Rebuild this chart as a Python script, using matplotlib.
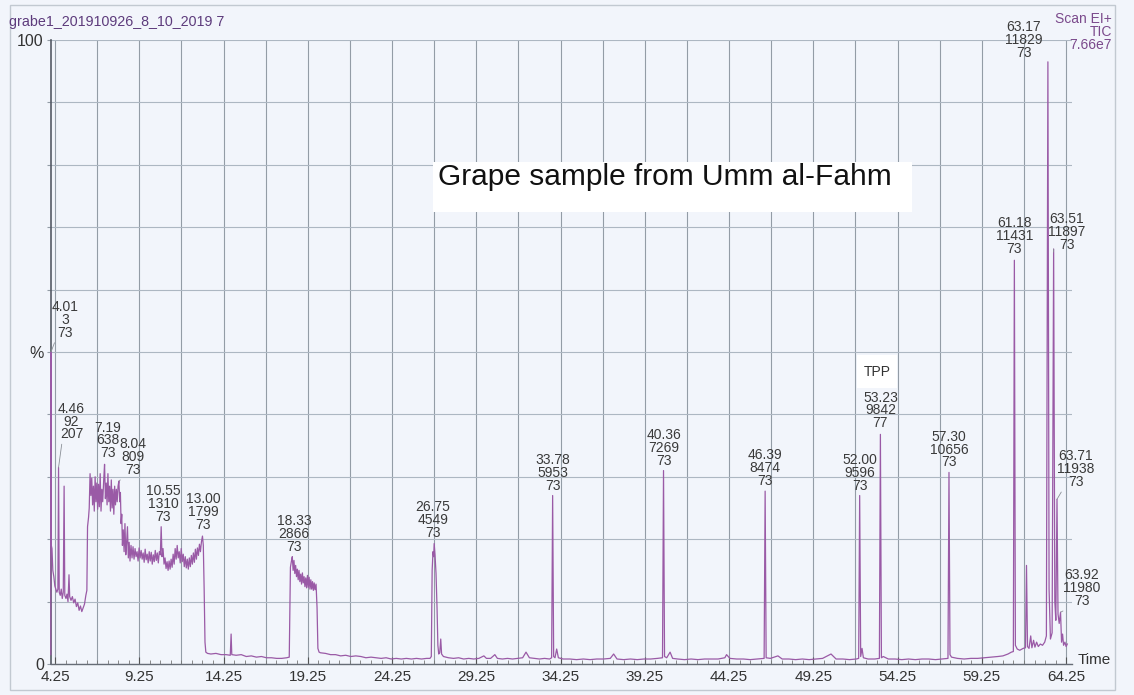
import matplotlib
matplotlib.use("Agg")
import matplotlib.pyplot as plt
import numpy as np
from matplotlib.ticker import FixedLocator, FixedFormatter
from matplotlib.patches import Rectangle

plt.rcParams['font.family'] = ['Liberation Sans', 'DejaVu Sans']

# ---------------- data ----------------
seg_start = [(4.00, 1.5), (4.01, 50.0), (4.03, 19.0), (4.07, 18.5), (4.12, 15.0), (4.18, 14.0),
             (4.24, 12.5), (4.30, 12.0), (4.36, 11.5), (4.42, 12.0), (4.46, 31.5), (4.50, 11.5),
             (4.56, 11.0), (4.62, 12.0), (4.68, 10.5), (4.74, 11.5), (4.79, 28.5), (4.83, 11.0),
             (4.90, 10.5), (4.96, 11.2), (5.02, 10.0), (5.08, 14.3), (5.12, 10.8), (5.20, 10.2),
             (5.28, 10.8), (5.36, 9.8), (5.44, 10.4), (5.52, 9.2), (5.60, 9.8), (5.68, 8.6),
             (5.76, 9.3), (5.84, 8.4), (5.92, 9.0), (6.00, 9.6), (6.08, 11.0), (6.14, 11.8),
             (6.18, 22.0), (6.24, 23.5), (6.28, 25.0), (6.33, 30.5), (6.38, 27.0)]
seg_band1 = [(6.43, 29.8), (6.48, 25.5), (6.53, 28.5), (6.58, 24.5), (6.63, 30.0), (6.68, 26.0),
             (6.73, 29.0), (6.78, 24.8), (6.83, 28.8), (6.88, 25.2), (6.93, 30.5), (6.98, 24.5),
             (7.03, 28.0), (7.08, 26.0), (7.14, 29.5), (7.19, 32.0), (7.24, 26.5), (7.29, 29.0),
             (7.34, 25.5), (7.39, 30.5), (7.44, 26.0), (7.49, 28.5), (7.54, 24.5), (7.59, 29.5),
             (7.64, 25.0), (7.69, 28.0), (7.74, 24.0), (7.79, 28.5), (7.84, 25.5), (7.89, 28.0),
             (7.94, 26.0), (7.99, 28.5), (8.04, 29.3), (8.09, 26.0), (8.13, 27.5)]
seg_band2 = [(8.17, 22.5), (8.21, 24.0), (8.25, 19.0), (8.30, 21.5), (8.35, 18.0), (8.40, 22.5),
             (8.45, 17.5), (8.50, 19.5), (8.55, 22.0), (8.60, 17.0), (8.65, 19.5), (8.70, 16.5),
             (8.76, 19.0), (8.82, 17.0), (8.88, 18.8), (8.94, 16.8), (9.00, 18.5), (9.06, 17.2),
             (9.12, 18.0), (9.18, 16.5), (9.24, 18.6), (9.30, 17.0), (9.36, 18.2), (9.42, 16.8),
             (9.48, 17.8), (9.54, 16.3), (9.60, 18.4), (9.66, 16.7), (9.72, 17.6), (9.78, 16.2),
             (9.84, 18.0), (9.90, 16.5), (9.96, 17.9), (10.02, 16.0), (10.08, 17.5), (10.14, 16.4),
             (10.20, 18.2), (10.26, 16.6), (10.32, 17.8), (10.38, 16.2), (10.44, 18.0), (10.50, 17.5),
             (10.55, 22.0), (10.60, 17.2), (10.66, 18.5), (10.72, 16.0), (10.78, 17.0), (10.84, 15.3),
             (10.90, 16.4), (10.96, 15.0), (11.02, 16.5), (11.08, 15.2), (11.14, 16.8), (11.20, 15.5),
             (11.26, 17.6), (11.32, 16.0), (11.38, 18.5), (11.44, 16.8), (11.50, 19.0), (11.56, 17.0),
             (11.62, 18.0), (11.68, 16.2), (11.74, 18.5), (11.80, 16.4), (11.86, 17.6), (11.92, 15.6),
             (11.98, 17.2), (12.04, 15.4), (12.10, 16.8), (12.16, 15.2), (12.22, 17.0), (12.28, 15.6),
             (12.34, 17.4), (12.40, 16.0), (12.46, 17.8), (12.52, 16.3), (12.58, 18.4), (12.64, 16.8),
             (12.70, 18.6), (12.76, 17.4), (12.82, 19.2), (12.88, 18.0), (12.94, 19.6), (13.00, 20.5),
             (13.05, 19.0), (13.10, 12.0), (13.15, 3.5), (13.20, 1.9)]
seg_base1 = [(13.30, 1.7), (13.50, 1.6), (13.80, 1.7), (14.10, 1.5), (14.40, 1.5), (14.65, 1.4),
             (14.70, 4.8), (14.74, 1.5), (15.00, 1.4), (15.30, 1.5), (15.60, 1.2), (15.90, 1.3),
             (16.20, 1.1), (16.50, 1.2), (16.80, 1.0), (17.10, 1.0), (17.40, 0.9), (17.70, 0.9),
             (18.00, 1.0), (18.15, 1.1)]
seg_band3 = [(18.22, 15.5), (18.28, 16.5), (18.33, 17.2), (18.38, 15.0), (18.43, 16.6), (18.48, 14.5),
             (18.53, 15.8), (18.58, 14.0), (18.63, 15.2), (18.68, 13.5), (18.73, 15.0), (18.78, 13.2),
             (18.83, 14.4), (18.88, 12.8), (18.93, 14.6), (18.98, 13.0), (19.03, 14.0), (19.08, 12.4),
             (19.13, 13.8), (19.18, 12.2), (19.23, 14.2), (19.28, 12.3), (19.33, 13.9), (19.38, 12.0),
             (19.43, 13.5), (19.48, 12.0), (19.53, 13.2), (19.58, 11.8), (19.63, 13.0), (19.68, 11.9),
             (19.74, 12.8), (19.80, 9.0), (19.85, 2.5), (19.92, 1.9)]
seg_base2 = [(20.00, 1.8), (20.30, 1.7), (20.60, 1.5), (20.90, 1.5), (21.20, 1.3), (21.50, 1.4),
             (21.80, 1.2), (22.10, 1.3), (22.40, 1.2), (22.70, 1.0), (23.00, 1.1), (23.30, 1.0),
             (23.60, 0.9), (23.90, 1.0), (24.20, 0.8), (24.50, 0.9), (24.80, 0.8), (25.10, 0.9),
             (25.40, 0.8), (25.70, 0.9), (26.00, 0.8), (26.30, 0.9), (26.50, 0.9)]
seg_peak26 = [(26.58, 1.2), (26.63, 15.0), (26.68, 18.0), (26.72, 17.2), (26.75, 19.3), (26.80, 17.5),
              (26.86, 14.5), (26.92, 9.0), (26.97, 3.0), (27.02, 1.6), (27.08, 1.8), (27.14, 4.0),
              (27.19, 1.6), (27.30, 1.2)]
seg_base3 = [(27.60, 1.0), (27.90, 0.9), (28.20, 1.0), (28.50, 0.8), (28.80, 0.9), (29.10, 0.8),
             (29.40, 0.9), (29.70, 1.3), (29.85, 0.9), (30.10, 0.9), (30.35, 1.5), (30.50, 0.9),
             (30.80, 0.8), (31.10, 0.9), (31.40, 0.8), (31.70, 0.9), (32.00, 1.0), (32.20, 1.9),
             (32.40, 1.0), (32.70, 0.9), (33.00, 0.8), (33.30, 0.9), (33.60, 0.8), (33.72, 1.0),
             (33.78, 27.0), (33.84, 1.2), (33.92, 1.0), (34.02, 2.4), (34.12, 1.0), (34.40, 0.8),
             (34.80, 0.8), (35.20, 0.7), (35.60, 0.8), (36.00, 0.7), (36.40, 0.8), (36.80, 0.8),
             (37.20, 0.9), (37.40, 1.6), (37.60, 0.8), (38.00, 0.7), (38.40, 0.8), (38.80, 0.7),
             (39.20, 0.8), (39.60, 0.8), (40.00, 0.9), (40.30, 1.0), (40.36, 31.0), (40.42, 1.2),
             (40.55, 1.0), (40.75, 1.9), (40.90, 0.9), (41.20, 0.8), (41.60, 0.7), (42.00, 0.8),
             (42.40, 0.7), (42.80, 0.8), (43.20, 0.8), (43.60, 0.8), (44.00, 1.0), (44.10, 1.5),
             (44.30, 0.9), (44.70, 0.8), (45.10, 0.8), (45.50, 0.7), (45.90, 0.8), (46.33, 0.9),
             (46.39, 27.7), (46.45, 1.0), (46.70, 0.9), (47.15, 1.3), (47.40, 0.8), (47.80, 0.8),
             (48.20, 0.7), (48.60, 0.8), (49.00, 0.7), (49.40, 0.8), (49.80, 0.9), (50.30, 1.6),
             (50.60, 0.8), (51.00, 0.8), (51.40, 0.7), (51.80, 0.8), (51.94, 0.9), (52.00, 27.0),
             (52.06, 1.2), (52.14, 2.5), (52.22, 1.0), (52.50, 0.8), (52.90, 0.8), (53.17, 0.9),
             (53.23, 36.8), (53.29, 1.0), (53.40, 1.2), (53.70, 0.8), (54.10, 0.8), (54.50, 0.7),
             (54.90, 0.8), (55.30, 0.7), (55.70, 0.8), (56.10, 0.8), (56.50, 0.7), (56.90, 0.8),
             (57.24, 0.9), (57.30, 30.7), (57.36, 1.5), (57.45, 1.1), (57.80, 0.9), (58.20, 0.8),
             (58.60, 0.9), (59.00, 0.9), (59.40, 1.0), (59.80, 1.1), (60.20, 1.2), (60.50, 1.3),
             (60.80, 1.6), (61.00, 1.9), (61.12, 2.0)]
seg_end = [(61.18, 64.7), (61.24, 3.0), (61.35, 2.4), (61.50, 2.2), (61.70, 2.5), (61.84, 2.6),
           (61.90, 15.8), (61.96, 2.8), (62.05, 2.5), (62.15, 4.5), (62.22, 2.6), (62.32, 3.8),
           (62.40, 2.7), (62.50, 3.5), (62.60, 2.8), (62.72, 3.2), (62.85, 3.0), (62.98, 3.5),
           (63.08, 4.5), (63.17, 96.5), (63.24, 12.0), (63.32, 4.0), (63.42, 5.0), (63.51, 66.5),
           (63.58, 10.0), (63.64, 7.0), (63.71, 26.4), (63.77, 8.0), (63.84, 6.5), (63.92, 8.3),
           (63.98, 3.5), (64.04, 4.8), (64.10, 3.0), (64.18, 3.5), (64.25, 2.8), (64.32, 3.2)]

trace = seg_start + seg_band1 + seg_band2 + seg_base1 + seg_band3 + seg_base2 + seg_peak26 + seg_base3 + seg_end
trace_time = np.array([p[0] for p in trace])
trace_pct = np.array([p[1] for p in trace])

peak_rt = [4.01, 4.46, 7.19, 8.04, 10.55, 13.00, 18.33, 26.75, 33.78, 40.36, 46.39,
           52.00, 53.23, 57.30, 61.18, 63.17, 63.51, 63.71, 63.92]
peak_scan = [3, 92, 638, 809, 1310, 1799, 2866, 4549, 5953, 7269, 8474,
             9596, 9842, 10656, 11431, 11829, 11897, 11938, 11980]
peak_mass = [73, 207, 73, 73, 73, 73, 73, 73, 73, 73, 73,
             73, 77, 73, 73, 73, 73, 73, 73]

x_ticks = [4.25, 9.25, 14.25, 19.25, 24.25, 29.25, 34.25, 39.25, 44.25, 49.25, 54.25, 59.25, 64.25]
x_tick_labels = ["4.25", "9.25", "14.25", "19.25", "24.25", "29.25", "34.25", "39.25",
                 "44.25", "49.25", "54.25", "59.25", "64.25"]
y_ticks = [0, 10, 20, 30, 40, 50, 60, 70, 80, 90, 100]
y_tick_labels = ["0", "", "", "", "", "%", "", "", "", "", "100"]

# ---------------- layout ----------------
W, H = 1134, 695
BG = '#f2f5fb'
# label offsets (pixels: dx right, dy up) from peak apex to label bottom-centre, and leader flag
label_layout = [(14, 12, True), (13, 26, True), (3, 4, False), (14, 4, True), (2, 3, False),
                (1, 4, False), (2, 3, False), (-1, 4, False), (0, 3, False), (0, 3, False),
                (0, 3, False), (0, 3, False), (0, 4, False), (0, 3, False), (0, 4, False),
                (-24, 2, False), (13, -3, True), (19, 10, True), (21, 4, True)]

def fx(x):
    return x / W

def fy(y):
    return 1 - y / H

fig = plt.figure(figsize=(W / 100, H / 100), dpi=100, facecolor=BG)
left_px, right_px, top_px, bot_px = 50.8, 1072.0, 40.0, 664.0
ax = fig.add_axes([fx(left_px), fy(bot_px), (right_px - left_px) / W, (bot_px - top_px) / H])
ax.set_facecolor(BG)
ax.set_xlim(4.0, 64.6)
ax.set_ylim(0, 100)

# grid
for g in np.arange(4.25, 64.3, 2.5):
    ax.axvline(g, color='#939ca6', lw=0.8, zorder=0)
ax.yaxis.set_major_locator(FixedLocator(y_ticks))
ax.yaxis.set_major_formatter(FixedFormatter(y_tick_labels))
ax.yaxis.grid(True, color='#adb7c2', lw=0.8, zorder=0)
ax.set_axisbelow(True)

ax.xaxis.set_major_locator(FixedLocator(x_ticks))
ax.xaxis.set_major_formatter(FixedFormatter(x_tick_labels))
ax.set_xticks(np.arange(4.25, 64.6, 0.625), minor=True)
ax.tick_params(axis='x', which='major', direction='in', length=5, width=0.8, color='#555555',
               labelsize=11, labelcolor='#333333', pad=4)
ax.tick_params(axis='x', which='minor', direction='in', length=3, width=0.6, color='#777777')
ax.tick_params(axis='y', which='major', direction='out', length=3, width=0.8, color='#939ca6',
               labelsize=11.5, labelcolor='#333333', pad=2)

for s in ['top', 'right']:
    ax.spines[s].set_visible(False)
ax.spines['left'].set_color('#555b66')
ax.spines['left'].set_linewidth(1.2)
ax.spines['bottom'].set_color('#666c76')
ax.spines['bottom'].set_linewidth(1.0)

# trace
ax.plot(trace_time, trace_pct, color='#9a5aa6', lw=0.9, zorder=3, clip_on=False)

# peak labels
px_to_pt = 72 / 100
for i, rt in enumerate(peak_rt):
    h = float(np.interp(rt, trace_time, trace_pct))
    dx, dy, leader = label_layout[i]
    txt = f"{rt:.2f}\n{peak_scan[i]}\n{peak_mass[i]}"
    kw = {}
    if leader:
        kw['arrowprops'] = dict(arrowstyle='-', color='#8a8f96', lw=0.6, shrinkA=0, shrinkB=0,
                                relpos=(0.15 if dx > 0 else 0.5, 0.0))
    ax.annotate(txt, xy=(rt, h), xytext=(dx * px_to_pt, dy * px_to_pt), textcoords='offset points',
                ha='center', va='bottom', fontsize=10, linespacing=0.9, color='#3a3a3a',
                zorder=5, annotation_clip=False, **kw)

# header texts
fig.text(fx(9), fy(22), "grabe1_201910926_8_10_2019 7", fontsize=10.3, color='#5d3b7c',
         ha='left', va='center')
fig.text(fx(1112), fy(32), "Scan EI+\nTIC\n7.66e7", fontsize=10, color='#7b4a8c',
         ha='right', va='center', linespacing=0.95, multialignment='right')
fig.text(fx(1078), fy(660), "Time", fontsize=11, color='#333333', ha='left', va='center')

# annotation boxes
fig.add_artist(Rectangle((fx(433), fy(212)), (912 - 433) / W, (212 - 162) / H,
                         transform=fig.transFigure, facecolor='white', edgecolor='none', zorder=6))
fig.text(fx(438), fy(177), "Grape sample from Umm al-Fahm", fontsize=21.5, color='#111111',
         ha='left', va='center', zorder=7)
fig.add_artist(Rectangle((fx(857), fy(388)), (897 - 857) / W, (388 - 355) / H,
                         transform=fig.transFigure, facecolor='white', edgecolor='none', zorder=6))
fig.text(fx(877), fy(372), "TPP", fontsize=10, color='#333333', ha='center', va='center', zorder=7)

# outer frame
fig.add_artist(Rectangle((fx(10), fy(690)), (1115 - 10) / W, (690 - 5) / H,
                         transform=fig.transFigure, fill=False, edgecolor='#c2c9d1', lw=1))

fig.savefig("out.png", dpi=100, facecolor=BG)
